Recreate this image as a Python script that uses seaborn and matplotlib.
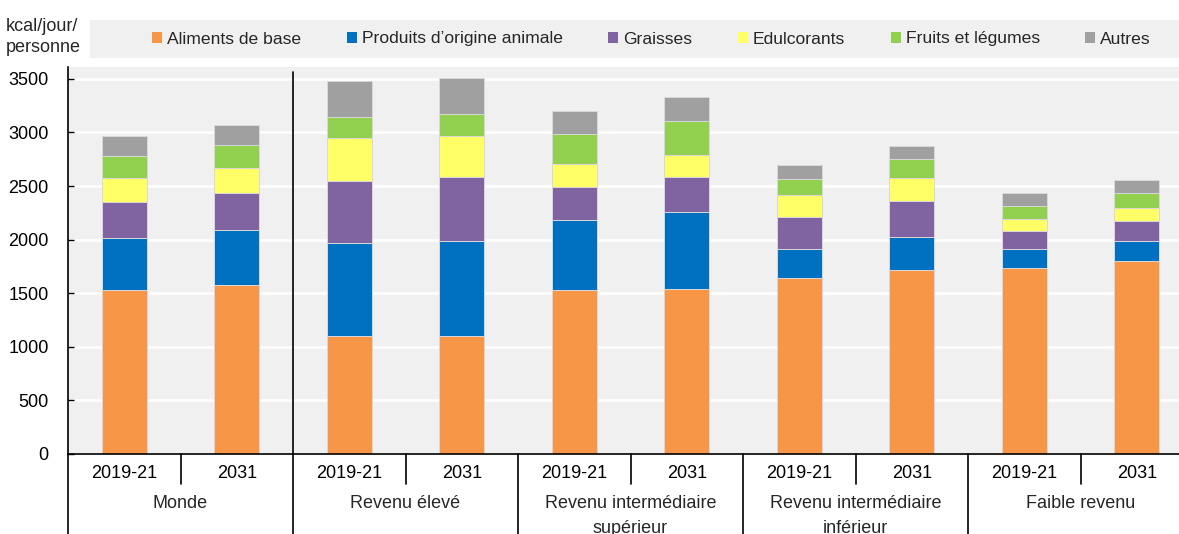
import numpy as np
import pandas as pd
import matplotlib.pyplot as plt
from matplotlib.patches import Patch, Rectangle
import seaborn as sns

sns.set_theme(style='white')
plt.rcParams['font.family'] = ['Liberation Sans', 'DejaVu Sans']

# donnees (kcal/jour/personne)
groupes = ['Monde', 'Revenu élevé', 'Revenu intermédiaire\nsupérieur',
           'Revenu intermédiaire\ninférieur', 'Faible revenu']
periodes = ['2019-21', '2031']
composantes = ['Aliments de base', 'Produits d\u2019origine animale', 'Graisses',
               'Edulcorants', 'Fruits et légumes', 'Autres']
couleurs = ['#F79646', '#0070C0', '#8064A2', '#FFFF66', '#92D050', '#A0A0A0']

aliments_base = [1530, 1577, 1098, 1104, 1530, 1540, 1645, 1714, 1738, 1801]
produits_animaux = [488, 516, 868, 887, 657, 715, 268, 314, 172, 184]
graisses = [330, 342, 581, 594, 307, 330, 296, 330, 171, 186]
edulcorants = [227, 231, 404, 385, 212, 208, 208, 214, 112, 122]
fruits_legumes = [203, 217, 194, 206, 280, 311, 152, 178, 121, 140]
autres = [186, 190, 333, 332, 218, 224, 128, 127, 121, 124]

series = [aliments_base, produits_animaux, graisses, edulcorants, fruits_legumes, autres]
n = len(aliments_base)
df = pd.DataFrame({'barre': range(n)})
cumul = np.cumsum(np.array(series), axis=0)
for i, nom in enumerate(composantes):
    df[nom] = cumul[i]

fig = plt.figure(figsize=(11.79, 5.34), dpi=100)
W, H = 1179, 534
ax = fig.add_axes([68 / W, 1 - 454 / H, 1 - 68 / W, (454 - 67) / H])
ax.set_facecolor('#f0f0f0')

# barres empilees : on dessine les cumuls du plus haut au plus bas
for i in reversed(range(len(composantes))):
    sns.barplot(data=df, x='barre', y=composantes[i], color=couleurs[i], width=0.4,
                saturation=1, edgecolor='#d9d9d9', linewidth=0.7, errorbar=None, ax=ax)

ax.set_xlim(-0.5, -0.5 + (W - 68) / 112.5)
ax.set_ylim(0, 3611)
ax.set_yticks(range(0, 3501, 500))
ax.yaxis.grid(True, color='white', lw=1.8)
ax.set_axisbelow(True)
ax.set_xlabel('')
ax.set_ylabel('')

fs = 13
ax.set_xticks(range(n))
ax.set_xticklabels(periodes * len(groupes))
ax.tick_params(axis='x', length=0, pad=8, labelsize=fs, colors='black')
ax.tick_params(axis='y', direction='in', length=4, width=1, pad=14, labelsize=fs,
               left=True, colors='black')

for s in ['top', 'right']:
    ax.spines[s].set_visible(False)
for s in ['left', 'bottom']:
    ax.spines[s].set_color('black')
    ax.spines[s].set_linewidth(1.2)

# separateurs sous l'axe
px = 1 / (454 - 67)
tr = ax.get_xaxis_transform()
bas = -80 * px
ax.plot([-0.5, -0.5], [0, bas], transform=tr, color='black', lw=1.2, clip_on=False)
for k in range(len(groupes)):
    x_in = 2 * k + 0.5
    ax.plot([x_in, x_in], [0, -30 * px], transform=tr, color='black', lw=1.2, clip_on=False)
    if k < len(groupes) - 1:
        x_g = 2 * k + 1.5
        haut = (454 - 72) * px if k == 0 else 0
        ax.plot([x_g, x_g], [haut, bas], transform=tr, color='black', lw=1.2, clip_on=False)
    ax.annotate(groupes[k], xy=(2 * k + 0.5, 0), xycoords=tr, xytext=(0, -41),
                textcoords='offset pixels', ha='center', va='top', fontsize=fs,
                linespacing=1.6, annotation_clip=False)

# legende dans un bandeau gris
fig.patches.append(Rectangle((90 / W, 1 - 58 / H), 1 - 90 / W, 38 / H,
                             transform=fig.transFigure, facecolor='#f0f0f0',
                             edgecolor='none', zorder=0))
poignees = [Patch(facecolor=c, edgecolor='none') for c in couleurs]
fig.legend(poignees, composantes, loc='center left', bbox_to_anchor=(152 / W, 1 - 39 / H),
           ncol=6, frameon=False, fontsize=12.6, handlelength=0.57, handleheight=0.57,
           handletextpad=0.29, columnspacing=2.6, borderpad=0, borderaxespad=0)

fig.text(6 / W, 1 - 37 / H, 'kcal/jour/\npersonne', ha='left', va='center',
         fontsize=fs, linespacing=1.35)

fig.savefig('out.png', dpi=100)
